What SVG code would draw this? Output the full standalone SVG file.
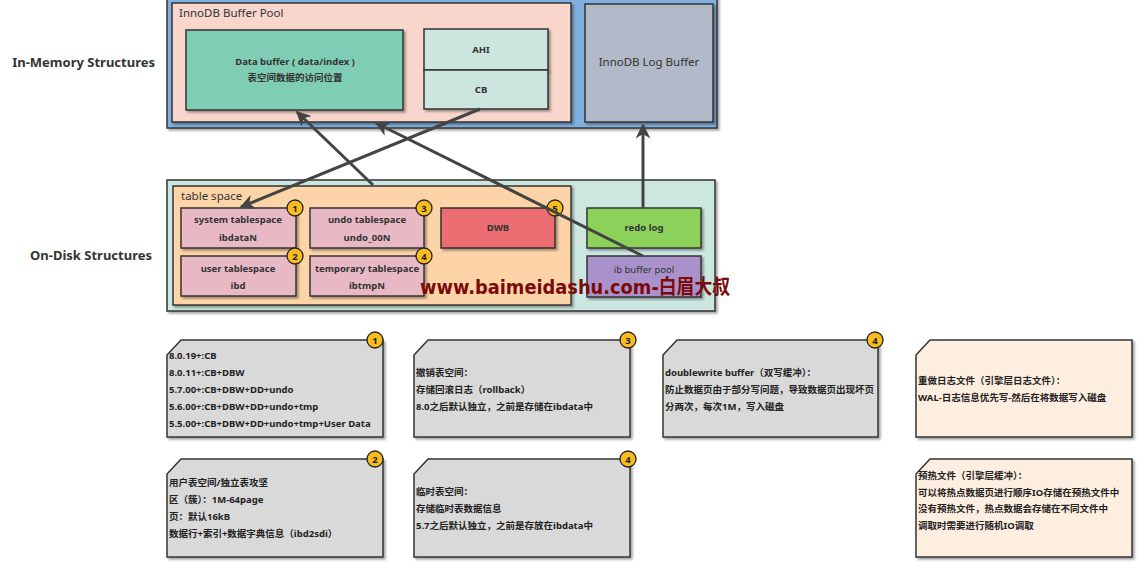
<svg xmlns="http://www.w3.org/2000/svg" width="1148" height="584" viewBox="0 0 1148 584">
<defs>
<filter id="sh" x="-10%" y="-10%" width="130%" height="130%">
<feDropShadow dx="2" dy="2" stdDeviation="1.2" flood-color="#000" flood-opacity="0.35"/>
</filter>
<marker id="ah" viewBox="0 0 10 10" refX="9" refY="5" markerWidth="5" markerHeight="5" orient="auto" markerUnits="strokeWidth">
<path d="M0,0 L10,5 L0,10 L3,5 Z" fill="#444"/>
</marker>
</defs>
<style>
.box{stroke:#333;stroke-width:1.5;filter:url(#sh)}
.t{font-family:"Noto Sans","Noto Sans CJK SC",sans-serif;fill:#333}
.c{text-anchor:middle;font-size:9.5px;font-weight:bold}
.n{font-size:9.5px;font-weight:bold;fill:#222}
.lbl{font-size:13px;font-weight:bold;fill:#333;text-anchor:end}
.badge circle{fill:#fbbc1d;stroke:#222;stroke-width:1.3}
.badge text{font-family:"Noto Sans",sans-serif;font-size:9.5px;font-weight:bold;fill:#222;text-anchor:middle}
.note{stroke:#333;stroke-width:1.5;filter:url(#sh)}
.conn{stroke:#444;stroke-width:3;fill:none;marker-end:url(#ah)}
</style>
<rect width="1148" height="584" fill="#fff"/>

<g id="labels">
<text class="t lbl" x="155" y="67">In-Memory Structures</text>
<text class="t lbl" x="152" y="260">On-Disk Structures</text>
</g>

<g id="in-memory">
<rect class="box" x="167" y="-2" width="550" height="130" fill="#80b0e0"/>
</g>
<g id="buffer-pool">
<rect class="box" x="172" y="3" width="399" height="119" fill="#f8d6cc"/>
<text class="t" x="179" y="17" font-size="11.5">InnoDB Buffer Pool</text>
</g>
<g id="data-buffer">
<rect class="box" x="186" y="30" width="217" height="80" fill="#7fcdb5"/>
<text class="t c" x="295" y="65">Data buffer ( data/index )</text>
<text class="t c" x="295" y="81">表空间数据的访问位置</text>
</g>
<g id="ahi">
<rect class="box" x="424" y="29" width="124" height="41" fill="#cce6df"/>
<text class="t c" x="481" y="53">AHI</text>
</g>
<g id="cb">
<rect class="box" x="424" y="70" width="124" height="39" fill="#cce6df"/>
<text class="t c" x="481" y="93">CB</text>
</g>
<g id="log-buffer">
<rect class="box" x="585" y="4" width="128" height="118" fill="#b2b9c8"/>
<text class="t" x="649" y="66" font-size="11.5" text-anchor="middle" fill="#444">InnoDB Log Buffer</text>
</g>

<g id="on-disk">
<rect class="box" x="167" y="180" width="548" height="131" fill="#cce6e0"/>
</g>
<g id="table-space">
<rect class="box" x="173" y="186" width="398" height="119" fill="#fdd3a8"/>
<text class="t" x="181" y="200" font-size="11.5">table space</text>
</g>
<g id="system-tablespace">
<rect class="box" x="181" y="208" width="115" height="40" fill="#e8b8c5"/>
<text class="t c" x="238" y="223">system tablespace</text>
<text class="t c" x="238" y="241">ibdataN</text>
</g>
<g id="user-tablespace">
<rect class="box" x="181" y="256" width="115" height="40" fill="#e8b8c5"/>
<text class="t c" x="238" y="272">user tablespace</text>
<text class="t c" x="238" y="289">ibd</text>
</g>
<g id="undo-tablespace">
<rect class="box" x="310" y="208" width="114" height="40" fill="#e8b8c5"/>
<text class="t c" x="367" y="223">undo tablespace</text>
<text class="t c" x="367" y="241">undo_00N</text>
</g>
<g id="temporary-tablespace">
<rect class="box" x="310" y="256" width="114" height="40" fill="#e8b8c5"/>
<text class="t c" x="367" y="272">temporary tablespace</text>
<text class="t c" x="367" y="289">ibtmpN</text>
</g>
<g id="dwb">
<rect class="box" x="441" y="208" width="114" height="40" fill="#ec6e72"/>
<text class="t c" x="498" y="231">DWB</text>
</g>
<g id="redo-log">
<rect class="box" x="587" y="208" width="114" height="40" fill="#8cd25a"/>
<text class="t c" x="644" y="231">redo log</text>
</g>
<g id="ib-buffer-pool">
<rect class="box" x="587" y="256" width="114" height="41" fill="#a991cc"/>
<text class="t c" x="644" y="273" style="font-weight:normal" fill="#555">ib buffer pool</text>
</g>

<g id="badges">
<g class="badge"><circle cx="295" cy="208" r="8"/><text x="295" y="211.5">1</text></g>
<g class="badge"><circle cx="295" cy="256" r="8"/><text x="295" y="259.5">2</text></g>
<g class="badge"><circle cx="424" cy="208" r="8"/><text x="424" y="211.5">3</text></g>
<g class="badge"><circle cx="424" cy="256" r="8"/><text x="424" y="259.5">4</text></g>
<g class="badge"><circle cx="555" cy="208" r="8"/><text x="555" y="211.5">5</text></g>
</g>

<g id="connectors">
<line class="conn" x1="373" y1="185" x2="297" y2="112"/>
<line class="conn" x1="480" y1="109" x2="241" y2="207"/>
<line class="conn" x1="643" y1="256" x2="376" y2="123"/>
<line class="conn" x1="643" y1="208" x2="643" y2="125"/>
</g>

<g id="note-1">
<path class="note" d="M181,340 L383,340 L383,437 L167,437 L167,355 Z" fill="#d9d9d9"/>
<g class="badge"><circle cx="375" cy="340" r="8"/><text x="375" y="343.5">1</text></g>
<text class="t n" x="169" y="359">8.0.19+:CB</text>
<text class="t n" x="169" y="376">8.0.11+:CB+DBW</text>
<text class="t n" x="169" y="393">5.7.00+:CB+DBW+DD+undo</text>
<text class="t n" x="169" y="410">5.6.00+:CB+DBW+DD+undo+tmp</text>
<text class="t n" x="169" y="427">5.5.00+:CB+DBW+DD+undo+tmp+User Data</text>
</g>
<g id="note-2">
<path class="note" d="M181,459 L383,459 L383,557 L167,557 L167,474 Z" fill="#d9d9d9"/>
<g class="badge"><circle cx="375" cy="459" r="8"/><text x="375" y="462.5">2</text></g>
<text class="t n" x="169" y="486">用户表空间/独立表攻坚</text>
<text class="t n" x="169" y="503">区（簇）：1M-64page</text>
<text class="t n" x="169" y="520">页：默认16kB</text>
<text class="t n" x="169" y="537">数据行+索引+数据字典信息（ibd2sdi）</text>
</g>
<g id="note-3">
<path class="note" d="M428,340 L630,340 L630,437 L414,437 L414,355 Z" fill="#d9d9d9"/>
<g class="badge"><circle cx="628" cy="340" r="8"/><text x="628" y="343.5">3</text></g>
<text class="t n" x="416" y="376">撤销表空间：</text>
<text class="t n" x="416" y="393">存储回滚日志（rollback）</text>
<text class="t n" x="416" y="410">8.0之后默认独立，之前是存储在ibdata中</text>
</g>
<g id="note-4">
<path class="note" d="M428,459 L630,459 L630,557 L414,557 L414,474 Z" fill="#d9d9d9"/>
<g class="badge"><circle cx="628" cy="459" r="8"/><text x="628" y="462.5">4</text></g>
<text class="t n" x="416" y="495">临时表空间：</text>
<text class="t n" x="416" y="512">存储临时表数据信息</text>
<text class="t n" x="416" y="529">5.7之后默认独立，之前是存放在ibdata中</text>
</g>
<g id="note-dwb">
<path class="note" d="M677,340 L878,340 L878,437 L663,437 L663,355 Z" fill="#d9d9d9"/>
<g class="badge"><circle cx="875" cy="340" r="8"/><text x="875" y="343.5">4</text></g>
<text class="t n" x="665" y="376">doublewrite buffer（双写缓冲）：</text>
<text class="t n" x="665" y="393">防止数据页由于部分写问题，导致数据页出现坏页</text>
<text class="t n" x="665" y="410">分两次，每次1M，写入磁盘</text>
</g>
<g id="note-redo">
<path class="note" d="M930,340 L1132,340 L1132,437 L916,437 L916,355 Z" fill="#fdeee0"/>
<text class="t n" x="918" y="384">重做日志文件（引擎层日志文件）：</text>
<text class="t n" x="918" y="401">WAL-日志信息优先写-然后在将数据写入磁盘</text>
</g>
<g id="note-ibpool">
<path class="note" d="M930,459 L1132,459 L1132,557 L916,557 L916,474 Z" fill="#fdeee0"/>
<text class="t n" x="918" y="479">预热文件（引擎层缓冲）：</text>
<text class="t n" x="918" y="496">可以将热点数据页进行顺序IO存储在预热文件中</text>
<text class="t n" x="918" y="512">没有预热文件，热点数据会存储在不同文件中</text>
<text class="t n" x="918" y="529">调取时需要进行随机IO调取</text>
</g>

<g id="watermark">
<text x="420" y="294" font-family="'DejaVu Sans','Noto Sans CJK SC',sans-serif" font-size="20" font-weight="bold" fill="#7b0a0a" textLength="310" lengthAdjust="spacingAndGlyphs">www.baimeidashu.com-白眉大叔</text>
</g>
</svg>
